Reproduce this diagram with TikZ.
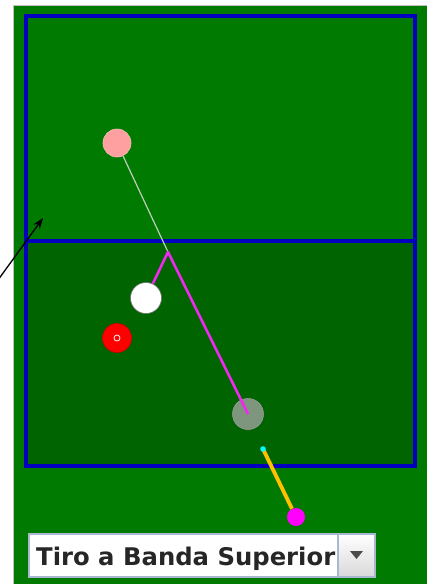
\documentclass[tikz,border=0pt]{standalone}
\usepackage{fontspec}
\newfontfamily\uifont{DejaVu Sans}
\usetikzlibrary{arrows.meta}
\definecolor{felt}{RGB}{0,122,0}
\definecolor{feltdark}{RGB}{0,100,0}
\definecolor{railblue}{RGB}{0,0,190}
\definecolor{pinkball}{RGB}{255,160,160}
\definecolor{ghostball}{RGB}{125,150,125}
\definecolor{aimgray}{RGB}{190,205,190}
\definecolor{cueyellow}{RGB}{255,192,0}
\definecolor{fieldborder}{RGB}{168,184,208}
\definecolor{pathmagenta}{RGB}{240,40,240}
\definecolor{buttmagenta}{RGB}{255,0,255}
\definecolor{tipcyan}{RGB}{0,255,255}
\tikzset{
  rail/.style={draw=railblue, line width=3.5pt},
  ball/.style={circle, inner sep=0pt, draw=black!55, line width=0.6pt},
  aimline/.style={draw=aimgray, line width=1.2pt},
  trajline/.style={draw=pathmagenta, line width=2.6pt, line join=round},
  cueline/.style={draw=cueyellow, line width=3.8pt},
  pointer/.style={-{Stealth[length=11pt,width=8pt]}, line width=1.3pt, black},
  combotext/.style={anchor=base west, inner sep=0pt, font=\uifont\bfseries\fontsize{24.3}{25}\selectfont, text=black!85}
}
\begin{document}
\begin{tikzpicture}[x=1pt,y=-1pt]
\useasboundingbox (0,0) rectangle (427,584);
\fill[white] (0,0) rectangle (427,584);
\fill[felt] (13,5) rectangle (427,584);
\draw[black!25, line width=0.8pt] (13,584) -- (13,5) -- (427,5);
% table halves
\draw[rail, fill=felt] (26,16) rectangle (415,241);
\draw[rail, fill=feltdark] (26,241) rectangle (415,466);
% balls and lines
\coordinate (bounce) at (168,252);
\node[ball, fill=pinkball, draw=pinkball!70!white, minimum size=28pt] (pink) at (117,143) {};
\node[ball, fill=ghostball, draw=black!40, minimum size=31pt] (ghost) at (248,414) {};
\draw[aimline] (pink) -- (bounce);
\node[ball, fill=white, minimum size=31pt] (cueball) at (146,298) {};
\draw[trajline] (cueball) -- (bounce) -- (ghost.center);
\node[ball, fill=red, draw=red!80!black, minimum size=29pt] (redball) at (117,338) {};
\node[circle, draw=white, line width=0.8pt, inner sep=0pt, minimum size=6pt] (redmark) at (redball.center) {};
% cue
\coordinate (tip) at (263,449);
\node[circle, fill=buttmagenta, inner sep=0pt, minimum size=18pt] (butt) at (296,517) {};
\draw[cueline] (tip) -- (butt);
\fill[tipcyan] (tip) circle (2.8pt);
% pointer arrow
\coordinate (arrowtail) at (-2,280);
\coordinate (arrowhead) at (43,218);
\draw[pointer] (arrowtail) -- (arrowhead);
% combo box
\draw[fieldborder, fill=white, line width=1.2pt] (29,534) rectangle (338,577);
\begin{scope}
\clip (30,535) rectangle (337,576);
\node[combotext] (combolabel) at (36,565) {Tiro a Banda Superior};
\end{scope}
\shade[top color=white, bottom color=black!15, draw=fieldborder, line width=1.2pt] (338,534) rectangle (375,577);
\fill[black!70] (350,551) -- (363,551) -- (356.5,559) -- cycle;
\end{tikzpicture}
\end{document}
